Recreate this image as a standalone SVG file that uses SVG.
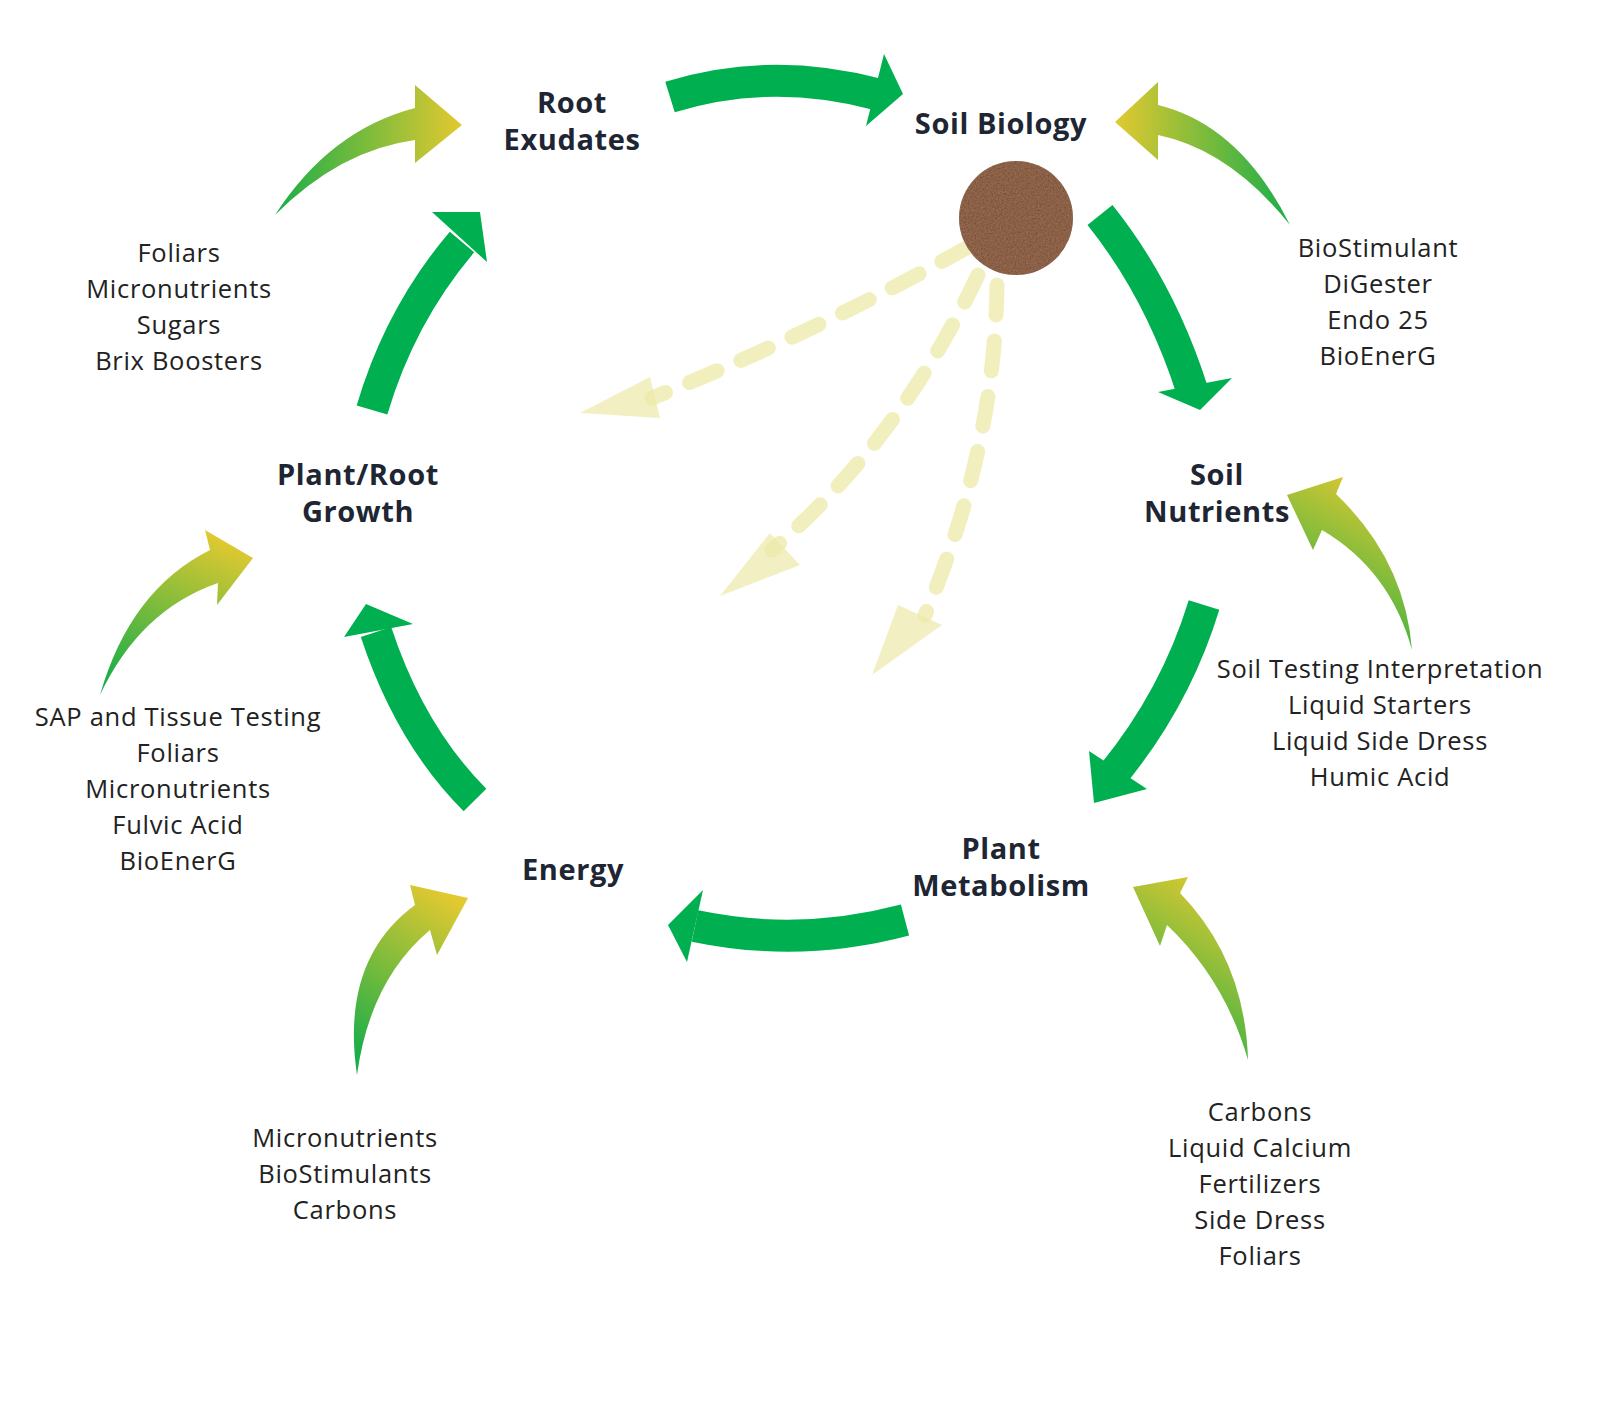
<svg xmlns="http://www.w3.org/2000/svg" width="1600" height="1412" viewBox="0 0 1600 1412">
<style>
.t{font-family:"Open Sans","Liberation Sans",sans-serif;font-weight:bold;font-size:29px;letter-spacing:0.6px;fill:#1e2533;text-anchor:middle}
.l{font-family:"Open Sans","Liberation Sans",sans-serif;font-size:25.5px;letter-spacing:0.7px;fill:#222;text-anchor:middle}
.body{fill:none;stroke:#00b050;stroke-width:32}
.head{fill:#00b050}
.dash{fill:none;stroke:#ede9a8;stroke-opacity:0.75;stroke-width:15;stroke-linecap:round;stroke-dasharray:30 26}
.dh{fill:#ede9a8;fill-opacity:0.7}
</style>
<defs>
<linearGradient id="gr" x1="0" y1="0" x2="1" y2="0"><stop offset="0" stop-color="#1aae48"/><stop offset="1" stop-color="#e3c930"/></linearGradient>
<linearGradient id="gl" x1="1" y1="0" x2="0" y2="0"><stop offset="0" stop-color="#1aae48"/><stop offset="1" stop-color="#e3c930"/></linearGradient>
<linearGradient id="gd" x1="0.3" y1="1" x2="0.7" y2="0"><stop offset="0" stop-color="#1aae48"/><stop offset="1" stop-color="#e3c930"/></linearGradient>
<filter id="soil"><feTurbulence type="fractalNoise" baseFrequency="0.6" numOctaves="2" result="n"/><feColorMatrix in="n" type="matrix" values="0 0 0 0 0.5  0 0 0 0 0.3  0 0 0 0 0.2  0 0 0 0.5 0" result="c"/><feComposite in="c" in2="SourceGraphic" operator="in" result="m"/><feMerge><feMergeNode in="SourceGraphic"/><feMergeNode in="m"/></feMerge></filter>
</defs>
<rect width="1600" height="1412" fill="#fff"/>
<g id="connectors">
<path class="body" d="M670,97 Q770,66 876,94"/>
<polygon class="head" points="884,54 903,94 866,126"/>
<path class="body" d="M1100,215 Q1160,290 1192,390"/>
<polygon class="head" points="1158,392 1232,378 1200,410"/>
<path class="body" d="M1204,605 Q1175,700 1110,778"/>
<polygon class="head" points="1147,789 1089,751 1094,803"/>
<path class="body" d="M905,920 Q800,948 695,926"/>
<polygon class="head" points="703,890 668,925 687,962"/>
<path class="body" d="M475,800 Q410,735 376,632"/>
<polygon class="head" points="413,624 366,604 344,637"/>
<path class="body" d="M372,410 Q400,315 462,242"/>
<polygon class="head" points="487,262 480,212 432,212"/>
<path fill="url(#gr)" d="M275,215 Q330,130 415,108 L415,85 L462,125 L415,163 L415,140 Q340,150 275,215 Z"/>
<path fill="url(#gl)" d="M1290,225 Q1240,125 1158,105 L1158,82 L1115,122 L1158,160 L1158,135 Q1230,150 1290,225 Z"/>
<path fill="url(#gd)" d="M1412,650 Q1405,560 1336,494 L1343,477 L1287,495 L1313,550 L1322,530 Q1390,570 1412,650 Z"/>
<path fill="url(#gd)" d="M1248,1060 Q1245,960 1180,893 L1188,877 L1133,887 L1160,946 L1167,925 Q1225,980 1248,1060 Z"/>
<path fill="url(#gd)" d="M357,1075 Q340,960 415,905 L410,885 L468,898 L437,955 L430,930 Q370,980 357,1075 Z"/>
<path fill="url(#gd)" d="M100,695 Q130,590 210,550 L205,530 L253,558 L217,605 L218,583 Q140,610 100,695 Z"/>
<path class="dash" d="M968,247 Q820,330 652,398"/>
<polygon class="dh" points="650,377 660,418 580,413"/>
<path class="dash" d="M978,275 Q900,440 772,550"/>
<polygon class="dh" points="770,533 800,565 720,596"/>
<path class="dash" d="M997,285 Q995,450 925,615"/>
<polygon class="dh" points="898,605 942,625 872,675"/>
</g>
<g id="soil-circle"><circle cx="1016" cy="218" r="57" fill="#744528" filter="url(#soil)"/></g>
<g id="root-exudates"><text class="t" x="572" y="113">Root</text><text class="t" x="572" y="150">Exudates</text></g>
<g id="soil-biology"><text class="t" x="1001" y="134">Soil Biology</text></g>
<g id="soil-nutrients"><text class="t" x="1217" y="485">Soil</text><text class="t" x="1217" y="522">Nutrients</text></g>
<g id="plant-metabolism"><text class="t" x="1001" y="859">Plant</text><text class="t" x="1001" y="896">Metabolism</text></g>
<g id="energy"><text class="t" x="573" y="880">Energy</text></g>
<g id="plant-root-growth"><text class="t" x="358" y="485">Plant/Root</text><text class="t" x="358" y="522">Growth</text></g>
<g id="list-root"><text class="l" x="179" y="262">Foliars</text><text class="l" x="179" y="298">Micronutrients</text><text class="l" x="179" y="334">Sugars</text><text class="l" x="179" y="370">Brix Boosters</text></g>
<g id="list-biology"><text class="l" x="1378" y="257">BioStimulant</text><text class="l" x="1378" y="293">DiGester</text><text class="l" x="1378" y="329">Endo 25</text><text class="l" x="1378" y="365">BioEnerG</text></g>
<g id="list-nutrients"><text class="l" x="1380" y="678">Soil Testing Interpretation</text><text class="l" x="1380" y="714">Liquid Starters</text><text class="l" x="1380" y="750">Liquid Side Dress</text><text class="l" x="1380" y="786">Humic Acid</text></g>
<g id="list-growth"><text class="l" x="178" y="726">SAP and Tissue Testing</text><text class="l" x="178" y="762">Foliars</text><text class="l" x="178" y="798">Micronutrients</text><text class="l" x="178" y="834">Fulvic Acid</text><text class="l" x="178" y="870">BioEnerG</text></g>
<g id="list-energy"><text class="l" x="345" y="1147">Micronutrients</text><text class="l" x="345" y="1183">BioStimulants</text><text class="l" x="345" y="1219">Carbons</text></g>
<g id="list-metabolism"><text class="l" x="1260" y="1121">Carbons</text><text class="l" x="1260" y="1157">Liquid Calcium</text><text class="l" x="1260" y="1193">Fertilizers</text><text class="l" x="1260" y="1229">Side Dress</text><text class="l" x="1260" y="1265">Foliars</text></g>
</svg>
